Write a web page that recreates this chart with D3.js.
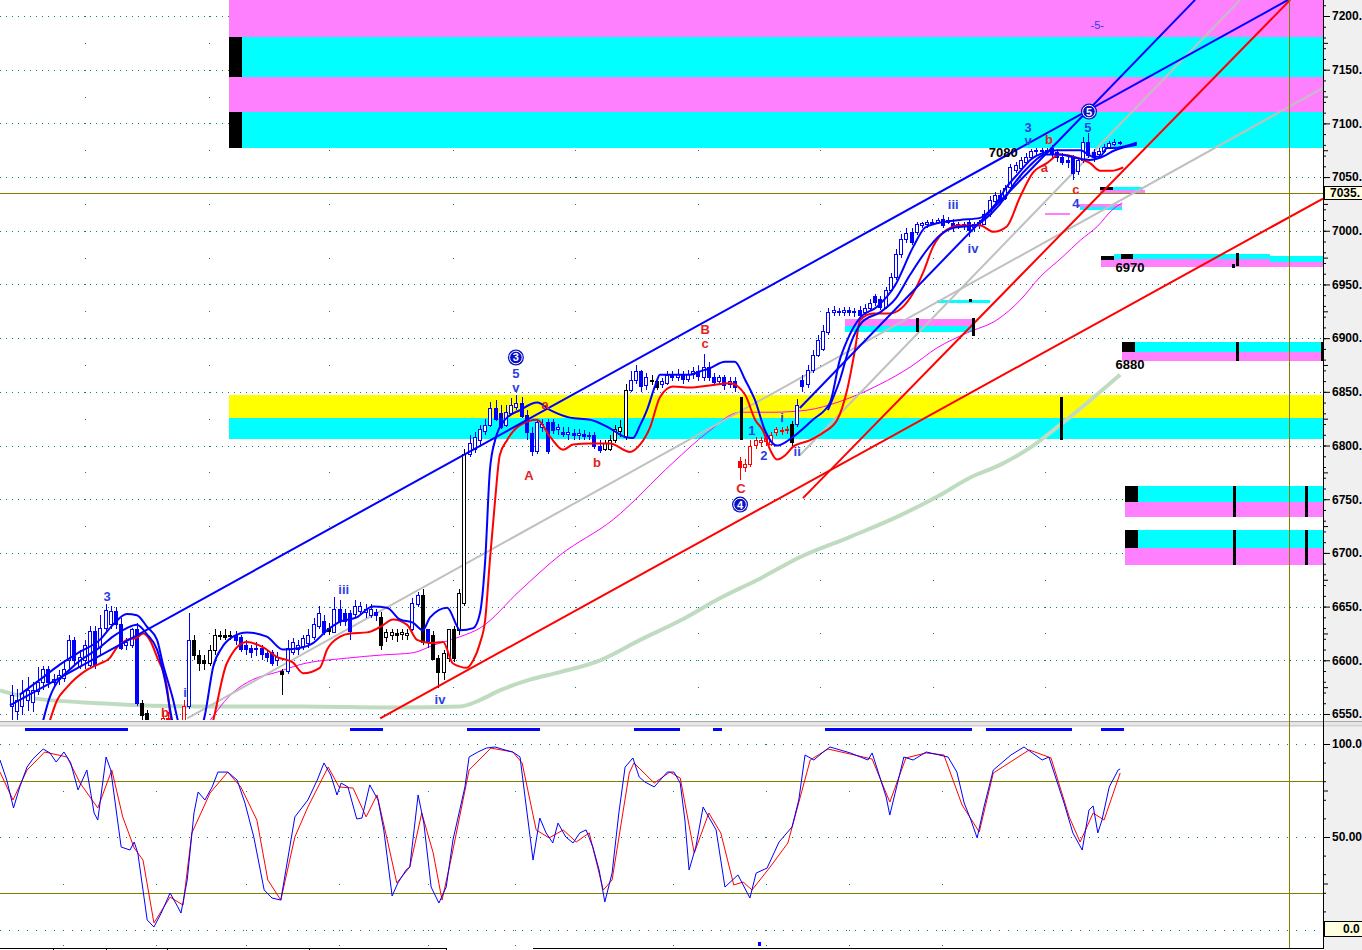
<!DOCTYPE html>
<html><head><meta charset="utf-8">
<script src="https://cdn.jsdelivr.net/npm/d3@7"></script>
<style>
html,body{margin:0;padding:0;background:#fff;}
svg{display:block;}
</style></head><body>
<svg id="chart" width="1362" height="950"></svg>
<script>
// ---------- DATA ----------
const priceTicks=[7200,7150,7100,7050,7000,6950,6900,6850,6800,6750,6700,6650,6600,6550];
const priceMid=[7175,7125,7075,7025,6975,6925,6875,6825,6775,6725,6675,6625,6575];
const stochTicks=[100,50];
const stochLabels=["100.0","50.00"];
const stochMid=[75,25];
const lastPrice=7035;

const opens=[6558,6553,6558,6563,6561,6572,6580,6592,6580,6582,
6584,6600,6619,6595,6600,6595,6627,6612,6630,6634,
6646,6634,6614,6614,6629,6560,6551,6540,6530,6537,
6546,6535,6525,6540,6558,6619,6605,6600,6598,6610,
6623,6624,6623,6624,6622,6614,6611,6610,6611,6607,
6608,6600,6590,6590,6608,6610,6614,6617,6622,6632,
6637,6630,6627,6648,6644,6644,6644,6646,6645,6642,
6645,6640,6621,6623,6625,6624,6623,6629,6653,6661,
6629,6624,6602,6589,6602,6629,6629,6653,6792,6797,
6805,6813,6819,6835,6830,6819,6831,6836,6840,6828,
6812,6795,6817,6822,6822,6815,6813,6811,6812,6810,
6811,6809,6810,6800,6796,6797,6805,6813,6808,6852,
6861,6869,6857,6861,6860,6857,6859,6866,6864,6866,
6862,6866,6869,6864,6873,6864,6860,6864,6857,6860,
6786,6780,6783,6800,6803,6804,6802,6812,6813,6814,
6820,6820,6861,6857,6870,6884,6890,6905,6924,6925,
6924,6926,6924,6926,6924,6928,6939,6936,6929,6945,
6957,6978,6992,6999,6999,7005,7006,7007,7008,7011,
7008,7007,7005,7006,7008,7003,7005,7007,7016,7027,
7033,7031,7040,7056,7059,7064,7068,7074,7074,7075,
7077,7073,7069,7066,7069,7056,7066,7083,7073,7071,
7074,7078,7081,7082];
const highs=[6577,6573,6582,6584,6580,6594,6595,6595,6587,6591,
6600,6624,6622,6610,6619,6632,6632,6642,6652,6651,
6650,6639,6621,6630,6635,6563,6554,6544,6540,6552,
6552,6540,6540,6563,6644,6624,6610,6605,6614,6629,
6627,6629,6627,6627,6624,6619,6614,6617,6614,6610,
6610,6608,6592,6619,6621,6619,6624,6629,6639,6651,
6642,6635,6659,6656,6648,6647,6656,6654,6652,6652,
6648,6645,6629,6629,6629,6629,6629,6658,6664,6666,
6629,6627,6605,6610,6629,6632,6666,6797,6810,6813,
6819,6825,6841,6842,6838,6838,6844,6847,6845,6833,
6817,6825,6825,6825,6825,6820,6817,6817,6815,6815,
6814,6813,6813,6805,6805,6810,6819,6824,6857,6869,
6875,6870,6868,6866,6863,6863,6869,6869,6871,6869,
6870,6873,6874,6885,6878,6868,6866,6866,6864,6864,
6789,6787,6805,6808,6808,6810,6813,6817,6817,6818,
6823,6843,6866,6875,6889,6903,6912,6928,6930,6928,
6929,6929,6928,6930,6932,6936,6941,6939,6948,6961,
6983,6997,7003,7003,7008,7008,7010,7011,7012,7015,
7013,7011,7008,7008,7011,7008,7010,7019,7032,7036,
7038,7043,7062,7064,7069,7072,7076,7077,7077,7077,
7080,7076,7072,7070,7071,7069,7087,7091,7076,7077,
7081,7084,7085,7084];
const lows=[6544,6544,6549,6553,6552,6568,6572,6574,6574,6577,
6580,6592,6595,6592,6592,6592,6592,6605,6627,6629,
6629,6610,6610,6611,6557,6544,6530,6520,6520,6530,
6530,6515,6515,6533,6555,6600,6590,6591,6595,6605,
6619,6619,6619,6614,6608,6605,6602,6604,6600,6598,
6595,6595,6568,6587,6605,6605,6610,6611,6619,6629,
6624,6624,6627,6632,6632,6619,6639,6642,6639,6639,
6637,6610,6617,6619,6617,6619,6619,6627,6650,6614,
6611,6600,6574,6582,6598,6598,6624,6651,6789,6793,
6800,6810,6817,6823,6815,6817,6828,6833,6826,6805,
6790,6792,6813,6792,6811,6810,6808,6805,6805,6805,
6805,6805,6797,6793,6795,6795,6802,6808,6805,6850,
6857,6850,6852,6856,6852,6854,6856,6860,6860,6857,
6859,6862,6860,6860,6860,6855,6856,6852,6854,6850,
6768,6775,6780,6797,6799,6800,6800,6809,6810,6811,
6800,6817,6850,6854,6868,6882,6888,6903,6921,6921,
6921,6921,6920,6918,6921,6926,6930,6926,6927,6943,
6954,6975,6989,6987,6996,7003,7003,7005,7006,7003,
7006,6999,7002,7001,6994,6999,7002,7005,7013,7024,
7024,7029,7038,7054,7056,7062,7066,7071,7071,7071,
7068,7064,7061,7058,7047,7052,7063,7068,7064,7068,
7072,7076,7079,7080];
const closes=[6568,6563,6570,6572,6572,6580,6592,6580,6583,6586,
6592,6619,6600,6603,6614,6627,6595,6630,6647,6646,
6634,6612,6617,6629,6560,6549,6540,6530,6537,6546,
6540,6525,6535,6557,6619,6605,6598,6597,6610,6624,
6624,6622,6624,6619,6611,6610,6607,6611,6605,6603,
6598,6603,6587,6611,6617,6614,6621,6624,6634,6644,
6627,6627,6648,6637,6637,6627,6651,6651,6648,6648,
6642,6614,6626,6626,6623,6626,6625,6653,6661,6617,
6617,6602,6589,6607,6629,6602,6663,6792,6802,6808,
6815,6819,6835,6825,6817,6831,6838,6840,6828,6812,
6795,6822,6820,6795,6815,6817,6811,6813,6810,6812,
6809,6810,6800,6796,6802,6805,6815,6817,6852,6861,
6869,6855,6864,6860,6854,6860,6866,6864,6867,6862,
6867,6869,6864,6873,6864,6859,6864,6857,6860,6854,
6780,6783,6800,6805,6805,6807,6810,6815,6814,6815,
6803,6838,6855,6870,6884,6898,6907,6924,6926,6924,
6926,6924,6925,6921,6928,6933,6933,6929,6945,6957,
6978,6992,6998,6990,7006,7007,7008,7008,7010,7005,
7010,7003,7006,7004,7001,7006,7008,7016,7029,7033,
7027,7040,7059,7061,7066,7069,7074,7075,7075,7074,
7071,7068,7064,7064,7054,7066,7083,7071,7068,7074,
7078,7082,7083,7083];
// colour regime per bar as runs: B blue, K black, R red
const regimeRuns=[["B",25],["K",3],["R",6],["B",1],["K",8],["B",9],["K",1],["B",8],["K",1],["B",9],["K",6],["B",2],["K",1],["B",1],["K",7],["B",26],["K",5],["B",4],["K",2],["B",15],["R",10],["K",1],["B",63]];

// envelope lines [barIndex, price]
const bandUpper=[[1.5,6568],[5.4,6582],[9.2,6596],[13.1,6608],[16.9,6619],[19.4,6633],[22.1,6643],[24.0,6642],[26.0,6631],[27.9,6619],[29.0,6597],[31.0,6563],[31.9,6544],[33.3,6521],[35.2,6521],[37.1,6549],[38.7,6594],[40.4,6612],[42.5,6622],[45.2,6626],[49.0,6622],[52.1,6610],[54.8,6611],[57.9,6616],[60.6,6628],[63.1,6636],[66.3,6640],[69.4,6650],[72.1,6649],[74.6,6638],[77.1,6635],[79.0,6628],[80.4,6640],[83.7,6649],[86.2,6628],[88.7,6630],[90.0,6644],[91.0,6693],[91.9,6777],[92.9,6805],[94.8,6824],[97.7,6833],[101.0,6840],[103.5,6833],[107.3,6826],[111.2,6824],[115.0,6816],[117.9,6808],[119.4,6807],[120.8,6819],[122.1,6833],[123.7,6856],[124.6,6866],[127.1,6866],[130.4,6866],[132.3,6869],[134.2,6872],[137.1,6878],[139.0,6878],[141.0,6861],[142.9,6842],[144.8,6814],[147.1,6800],[148.7,6803],[150.2,6808],[154.0,6824],[157.3,6840],[159.2,6880],[160.6,6898],[163.1,6919],[166.3,6929],[169.8,6949],[173.3,6985],[175.6,7003],[177.9,7007],[182.3,7010],[186.2,7012],[189.0,7024],[191.3,7041],[193.8,7055],[195.8,7066],[198.7,7073],[201.0,7075],[205.4,7075],[207.9,7069],[209.2,7069],[210.6,7077],[211.7,7077],[216.3,7082]];
const bandMidEarly=[[6.0,6544],[7.3,6566],[11.7,6594],[16.9,6612],[19.4,6622],[22.1,6630],[24.0,6633],[26.0,6624],[27.9,6610],[29.4,6582],[30.8,6544],[32.3,6516]];
const bandMidLate=[[156.9,6833],[159.2,6861],[161.2,6894],[163.5,6915],[166.9,6924],[169.8,6936],[172.7,6959],[175.6,6980],[178.5,6996],[181.3,7003],[185.2,7005],[188.1,7015],[191.0,7031],[192.9,7045],[195.8,7061],[198.7,7071],[201.5,7071],[204.4,7068],[207.3,7066],[209.2,7068],[212.1,7075],[216.3,7080]];
const bandLower=[[7.3,6544],[8.7,6563],[10.6,6575],[14.4,6591],[16.9,6597],[18.8,6602],[20.2,6612],[22.1,6619],[24.0,6621],[25.2,6625],[26.5,6619],[27.9,6603],[29.8,6575],[30.4,6551],[31.3,6526],[34.2,6498],[37.1,6516],[38.7,6544],[41.3,6597],[45.2,6617],[48.3,6612],[51.0,6603],[54.0,6598],[56.0,6588],[59.2,6593],[60.6,6610],[63.1,6622],[65.0,6625],[68.3,6626],[70.8,6631],[73.3,6638],[76.0,6633],[77.9,6619],[80.4,6616],[82.9,6617],[84.8,6597],[87.5,6593],[88.7,6600],[90.0,6616],[91.0,6638],[91.9,6693],[92.9,6749],[93.8,6791],[95.2,6805],[97.7,6819],[101.0,6824],[103.5,6808],[106.0,6796],[107.9,6801],[111.2,6802],[115.0,6802],[118.8,6794],[120.8,6801],[122.7,6817],[124.6,6845],[127.1,6855],[130.4,6854],[134.2,6856],[138.1,6858],[141.0,6847],[142.9,6824],[144.4,6814],[145.8,6796],[147.1,6787],[148.7,6791],[150.2,6799],[153.5,6805],[156.0,6812],[158.7,6824],[160.6,6852],[162.1,6889],[163.1,6917],[165.6,6923],[168.8,6923],[173.3,6942],[175.2,6961],[177.1,6985],[179.8,7001],[182.3,7005],[186.2,7005],[188.7,6999],[191.3,7004],[193.8,7031],[196.3,7054],[199.0,7063],[201.5,7071],[204.8,7068],[207.3,7063],[209.2,7056],[211.7,7056],[213.7,7059]];
const maLong=[[-2.3,6572],[3.5,6565],[16.9,6560],[36.2,6557],[55.4,6557],[74.6,6556],[86.2,6557],[90.0,6563],[93.8,6572],[99.6,6582],[105.4,6589],[113.1,6600],[120.8,6619],[128.5,6637],[136.2,6658],[143.8,6676],[151.5,6696],[161.2,6715],[170.8,6735],[178.5,6754],[184.2,6770],[190.0,6782],[195.8,6798],[201.5,6819],[207.3,6842],[213.1,6866]];
const maMid=[[38.1,6544],[42.5,6570],[46.3,6582],[51.0,6589],[55.4,6596],[64.4,6602],[71.3,6605],[77.1,6607],[81.0,6614],[86.2,6622],[90.0,6630],[97.7,6665],[105.4,6698],[115.6,6731],[127.1,6784],[133.7,6812],[140.0,6831],[146.3,6831],[152.9,6833],[159.2,6841],[166.9,6857],[172.7,6873],[177.9,6891],[183.7,6905],[189.4,6917],[193.8,6935],[197.7,6957],[202.1,6976],[205.4,6991],[208.7,7004],[211.7,7020],[213.5,7026]];

// trend lines: two anchors each [barIndex, price]
const trendBlue=[[[-0.4,6558],[245.4,7215]],[[151.5,6835],[227.5,7215]]];
const trendRed=[[[70.8,6546],[252.1,7030]],[[152.1,6751],[245.8,7215]]];
const trendGray=[[[33.7,6546],[252.1,7133]],[[151.5,6791],[236.2,7215]]];

// target / support zones
const zones=[
{i0:41.7,i1:252.1,p0:7214.9,p1:7180.4,k:"m"},
{i0:41.7,i1:252.1,p0:7180.4,p1:7143.2,k:"c"},
{i0:41.7,i1:252.1,p0:7143.2,p1:7110.6,k:"m"},
{i0:41.7,i1:252.1,p0:7110.6,p1:7077.1,k:"c"},
{i0:41.7,i1:44.2,p0:7180.4,p1:7143.2,k:"k"},
{i0:41.7,i1:44.2,p0:7110.6,p1:7077.1,k:"k"},
{i0:41.7,i1:252.1,p0:6847.0,p1:6825.6,k:"y"},
{i0:41.7,i1:252.1,p0:6825.6,p1:6806.1,k:"c"},
{i0:214.0,i1:252.1,p0:6762.3,p1:6747.4,k:"c"},
{i0:214.0,i1:252.1,p0:6747.4,p1:6733.4,k:"m"},
{i0:214.0,i1:216.5,p0:6762.3,p1:6747.4,k:"k"},
{i0:214.0,i1:252.1,p0:6721.3,p1:6704.5,k:"c"},
{i0:214.0,i1:252.1,p0:6704.5,p1:6688.7,k:"m"},
{i0:214.0,i1:216.5,p0:6721.3,p1:6704.5,k:"k"},
{i0:213.5,i1:252.1,p0:6896.4,p1:6887.1,k:"c"},
{i0:213.5,i1:252.1,p0:6887.1,p1:6878.7,k:"m"},
{i0:213.5,i1:216.0,p0:6896.4,p1:6887.1,k:"k"},
{i0:209.4,i1:252.1,p0:6973.7,p1:6966.2,k:"m"},
{i0:211.9,i1:241.9,p0:6978.3,p1:6973.7,k:"c"},
{i0:241.9,i1:252.1,p0:6976.5,p1:6970.9,k:"c"},
{i0:209.4,i1:211.9,p0:6976.5,p1:6972.8,k:"k"},
{i0:213.2,i1:215.6,p0:6978.3,p1:6973.7,k:"k"},
{i0:209.2,i1:217.9,p0:7038.0,p1:7035.2,k:"m"},
{i0:211.7,i1:217.5,p0:7040.7,p1:7038.0,k:"c"},
{i0:209.2,i1:211.7,p0:7040.7,p1:7038.0,k:"k"},
{i0:204.8,i1:213.5,p0:7024.9,p1:7022.1,k:"m"},
{i0:205.4,i1:213.5,p0:7022.1,p1:7019.8,k:"c"},
{i0:198.7,i1:203.5,p0:7016.5,p1:7014.7,k:"m"},
{i0:177.9,i1:188.1,p0:6935.5,p1:6932.7,k:"c"},
{i0:160.2,i1:185.2,p0:6917.8,p1:6911.3,k:"m"},
{i0:160.2,i1:185.2,p0:6911.3,p1:6905.7,k:"c"}
];
const markers=[[140.2,6845.2,6805.1],[201.7,6845.2,6805.1],[235.0,6762.3,6733.4],[248.8,6762.3,6733.4],[235.0,6721.3,6688.7],[248.8,6721.3,6688.7],[235.6,6896.4,6878.7],[251.9,6896.4,6878.7],[235.6,6979.3,6967.2],[234.8,6969.0,6965.3],[174.0,6918.7,6905.7],[184.8,6918.7,6902.0],[184.2,6936.4,6933.6]];

// annotations [barIndex, price, text]
const waveLabels=[[18.3,6660,"3"],[63.8,6666,"iii"],[33.3,6570,"i"],[82.3,6564,"iv"],[96.9,6867,"5"],[96.9,6854,"v"],[142.3,6814,"1"],[144.6,6791,"2"],[148.1,6826,"i"],[151.0,6795,"ii"],[181.0,7025,"iii"],[184.8,6984,"iv"],[195.4,7096,"3"],[195.4,7084,"v"],[206.9,7096,"5"],[204.6,7026,"4"]];
const corrLabels=[[99.4,6772,"A"],[112.5,6784,"b"],[133.3,6908,"B"],[133.3,6895,"c"],[140.2,6760,"C"],[198.5,7059,"a"],[199.4,7085,"b"],[204.6,7039,"c"],[102.5,6838,"a"],[29.4,6552,"b"]];
const levelLabels=[[190.6,7073,"7080"],[215.0,6966,"6970"],[215.0,6876,"6880"]];
const degreeLabels=[[96.9,6882,"3"],[140.0,6745,"4"],[207.1,7111,"5"]];
const topLabels=[[208.7,7192,"-5-"]];

// stochastic %K and %D [barIndex, value]
const stochK=[[-2.3,91.4],[-1.0,80.6],[0.3,65.6],[1.5,76.9],[2.9,87.6],[4.0,91.9],[6.0,97.3],[7.3,95.2],[8.5,90.3],[10.0,95.7],[11.3,89.8],[12.7,75.3],[14.4,86.0],[15.8,62.9],[16.5,59.1],[18.1,93.0],[19.0,86.0],[21.0,44.6],[22.7,43.0],[23.5,47.3],[24.2,41.4],[26.0,5.4],[27.3,1.6],[28.7,9.1],[30.4,19.9],[31.9,12.4],[32.5,9.1],[33.7,26.9],[35.0,62.9],[35.8,74.2],[37.1,69.9],[38.5,76.9],[39.6,84.9],[41.5,84.9],[43.3,80.6],[44.8,68.3],[46.5,50.0],[48.5,21.5],[50.0,17.2],[51.7,16.1],[54.4,60.8],[56.9,69.9],[58.7,80.6],[60.0,89.8],[61.3,83.3],[62.5,72.6],[63.3,79.0],[64.6,76.9],[66.3,59.7],[67.3,60.2],[68.8,78.0],[70.4,69.9],[71.5,53.8],[73.1,18.3],[74.2,25.3],[75.8,32.3],[76.5,33.9],[78.1,72.6],[79.2,57.5],[80.6,23.1],[82.1,14.5],[83.5,23.1],[84.8,48.4],[87.1,76.9],[87.9,93.0],[89.6,95.7],[91.2,97.8],[92.9,98.4],[94.8,96.8],[96.3,95.7],[97.7,93.0],[98.8,68.3],[100.2,37.6],[101.5,60.2],[102.7,52.2],[104.0,46.8],[105.0,57.5],[106.5,50.0],[107.9,46.8],[109.2,52.2],[110.4,53.8],[111.7,44.6],[112.9,32.3],[114.0,15.1],[115.4,30.6],[116.7,62.9],[117.9,87.6],[119.4,92.5],[120.6,82.3],[121.7,79.6],[123.5,76.9],[126.0,84.9],[127.3,84.9],[128.5,79.0],[129.4,59.1],[130.2,32.3],[131.5,44.6],[132.9,66.1],[135.4,53.8],[137.1,23.1],[139.6,29.6],[141.9,17.2],[143.1,30.6],[145.2,33.3],[147.5,47.3],[150.0,55.4],[151.3,69.9],[152.5,94.1],[154.2,91.4],[156.0,95.7],[157.3,98.4],[161.2,95.2],[164.6,91.4],[165.4,95.2],[168.1,71.5],[168.8,61.8],[171.5,93.0],[173.3,91.4],[175.8,95.7],[180.0,93.0],[181.7,84.9],[183.1,68.3],[184.4,59.1],[185.6,49.5],[186.9,66.1],[188.7,86.0],[192.1,94.1],[194.6,98.4],[198.1,91.4],[199.4,93.0],[202.3,68.3],[204.0,52.2],[205.8,43.0],[207.1,64.5],[207.9,66.7],[208.8,52.2],[209.6,59.1],[211.0,76.9],[212.7,86.0],[213.1,86.6]];
const stochD=[[-2.3,84.9],[0.2,69.9],[2.9,86.0],[6.3,95.7],[10.6,93.0],[13.1,79.0],[16.5,65.6],[19.2,86.0],[21.3,60.8],[23.5,44.1],[25.2,37.6],[27.3,3.8],[30.4,17.7],[32.9,13.4],[34.6,52.2],[38.1,73.7],[41.5,84.9],[44.0,76.9],[47.1,59.1],[49.2,26.9],[51.7,16.1],[54.4,50.0],[56.9,66.1],[60.8,87.6],[62.9,76.9],[65.6,76.3],[68.1,60.8],[70.2,72.6],[72.3,46.8],[74.0,25.3],[76.5,33.9],[78.8,62.9],[81.0,41.4],[82.7,16.1],[84.4,37.6],[87.9,86.0],[92.1,97.8],[96.3,95.7],[98.1,89.8],[100.8,53.8],[103.3,49.5],[106.0,53.8],[108.5,47.3],[111.0,52.2],[113.7,21.5],[115.4,26.9],[118.7,84.4],[119.6,89.8],[123.5,79.0],[126.5,84.9],[128.5,81.7],[131.2,41.4],[134.0,62.9],[136.3,52.2],[138.8,24.2],[140.6,25.8],[142.3,21.5],[145.8,33.9],[149.2,46.8],[153.5,91.4],[156.9,97.3],[161.2,94.6],[165.4,91.9],[168.8,68.8],[171.9,92.5],[175.8,95.2],[179.2,94.1],[182.7,67.2],[186.0,52.7],[188.7,84.4],[195.6,96.8],[199.8,92.5],[203.3,60.8],[205.4,47.3],[207.9,62.9],[210.0,59.1],[213.1,84.4]];
const signalSegs=[[2.5,22.3],[65.0,71.3],[87.5,101.5],[119.6,128.5],[134.8,136.5],[156.3,184.6],[187.3,203.8],[209.4,213.8]];
const bottomMarks=[143.7];

const gridColsMain=[14.0,37.9,61.0,84.8,108.3,131.9,155.4,177.1,198.7];
const gridColsLow=[9.8,27.7,45.0,62.9,80.0,96.7,127.1,145.0,161.0,178.8];
const lastBarMarker=245.6;

// ---------- DRAW ----------
const FONT="'Liberation Sans', Arial, sans-serif";
const PR=1323;
const x=d3.scaleLinear().domain([-2.3,252.1]).range([0,PR]);
const y=d3.scaleLinear().domain([6544.4,7214.9]).range([720,0]);
const ys=d3.scaleLinear().domain([0,100]).range([930,744]);
const colors={m:"#ff80ff",c:"#00ffff",y:"#ffff00",k:"#000000"};
const regCol={B:"#0000ff",K:"#000000",R:"#ff0000"};
const regimes=[];regimeRuns.forEach(([r,n])=>{for(let j=0;j<n;j++)regimes.push(r);});
const bars=opens.map((o,i)=>({i,o,h:highs[i],l:lows[i],c:closes[i],r:regimes[i]||"B"}));

const svg=d3.select("#chart");
svg.append("rect").attr("width",1362).attr("height",950).attr("fill","#fff");
svg.append("rect").attr("x",PR+1).attr("y",0).attr("width",1362-PR).attr("height",950).attr("fill","#f0f0f0");
const defs=svg.append("defs");
defs.append("clipPath").attr("id","cm").append("rect").attr("x",0).attr("y",0).attr("width",PR).attr("height",720);
defs.append("clipPath").attr("id","cl").append("rect").attr("x",0).attr("y",728).attr("width",PR).attr("height",220);

const gM=svg.append("g").attr("clip-path","url(#cm)");
// grid
gM.selectAll("line.hg").data(priceTicks).join("line")
 .attr("x1",0).attr("x2",PR).attr("y1",d=>Math.round(y(d))+0.5).attr("y2",d=>Math.round(y(d))+0.5)
 .attr("stroke","#008080").attr("stroke-dasharray","1,5");
const gridLevels=priceTicks.concat(priceMid);
gridColsMain.forEach(c=>{
  gM.selectAll(null).data(gridLevels).join("rect")
   .attr("x",Math.round(x(c))).attr("y",d=>Math.round(y(d))).attr("width",1).attr("height",1).attr("fill","#008080");
});
// zones
gM.selectAll("rect.zone").data(zones).join("rect")
 .attr("x",d=>Math.round(x(d.i0))).attr("width",d=>Math.round(x(d.i1))-Math.round(x(d.i0)))
 .attr("y",d=>Math.round(y(d.p0))).attr("height",d=>Math.max(1,Math.round(y(d.p1))-Math.round(y(d.p0))))
 .attr("fill",d=>colors[d.k]);
// olive reference line at last price
gM.append("line").attr("x1",0).attr("x2",PR).attr("y1",Math.round(y(lastPrice))+0.5).attr("y2",Math.round(y(lastPrice))+0.5).attr("stroke","#808000");
// moving averages
const ln=d3.line().x(d=>x(d[0])).y(d=>y(d[1])).curve(d3.curveMonotoneX);
gM.append("path").attr("d",ln(maLong)).attr("fill","none").attr("stroke","#c0dcc0").attr("stroke-width",4);
gM.append("path").attr("d",ln(maMid)).attr("fill","none").attr("stroke","#ff00ff").attr("stroke-width",1);
const ll=d3.line().x(d=>x(d[0])).y(d=>y(d[1]));
trendGray.forEach(t=>gM.append("path").attr("d",ll(t)).attr("fill","none").attr("stroke","#c0c0c0").attr("stroke-width",2));
// candles
const gc=gM.append("g").attr("shape-rendering","crispEdges");
gc.selectAll("line").data(bars).join("line")
 .attr("x1",d=>Math.round(x(d.i))+0.5).attr("x2",d=>Math.round(x(d.i))+0.5)
 .attr("y1",d=>y(d.h)).attr("y2",d=>y(d.l)).attr("stroke",d=>regCol[d.r]);
gc.selectAll("rect").data(bars).join("rect")
 .attr("x",d=>Math.round(x(d.i))-1.5).attr("width",3)
 .attr("y",d=>Math.round(y(Math.max(d.o,d.c)))+0.5)
 .attr("height",d=>Math.max(1,Math.round(Math.abs(y(d.o)-y(d.c)))))
 .attr("fill",d=>d.c>d.o?"#ffffff":regCol[d.r]).attr("stroke",d=>regCol[d.r]);
// envelope curves
gM.append("path").attr("d",ln(bandLower)).attr("fill","none").attr("stroke","#ff0000").attr("stroke-width",2);
[bandMidEarly,bandMidLate].forEach(s=>gM.append("path").attr("d",ln(s)).attr("fill","none").attr("stroke","#0000ff").attr("stroke-width",2));
gM.append("path").attr("d",ln(bandUpper)).attr("fill","none").attr("stroke","#0000ff").attr("stroke-width",2);
// trendlines
trendBlue.forEach(t=>gM.append("path").attr("d",ll(t)).attr("fill","none").attr("stroke","#0000ff").attr("stroke-width",2));
trendRed.forEach(t=>gM.append("path").attr("d",ll(t)).attr("fill","none").attr("stroke","#ff0000").attr("stroke-width",2));
// black markers
gM.selectAll("rect.mk").data(markers).join("rect")
 .attr("x",d=>Math.round(x(d[0]))-1).attr("width",3)
 .attr("y",d=>Math.round(y(d[1]))).attr("height",d=>Math.max(2,Math.round(y(d[2])-y(d[1]))))
 .attr("fill","#000");
// labels
function labels(data,fill,size,weight){
  gM.selectAll(null).data(data).join("text")
   .attr("x",d=>x(d[0])).attr("y",d=>y(d[1])).attr("dy","0.36em")
   .attr("text-anchor","middle").attr("font-family",FONT).attr("font-size",size)
   .attr("font-weight",weight).attr("fill",fill).text(d=>d[2]);
}
labels(waveLabels,"#2d3fe0",13,"bold");
labels(corrLabels,"#e41e1e",13,"bold");
labels(levelLabels,"#000",13,"bold");
labels(topLabels,"#2d3fe0",11,"normal");
const gd=gM.selectAll("g.deg").data(degreeLabels).join("g").attr("transform",d=>`translate(${x(d[0])},${y(d[1])})`);
gd.append("circle").attr("r",8).attr("fill","#0a10c8");
gd.append("circle").attr("r",6.3).attr("fill","none").attr("stroke","#fff").attr("stroke-width",1);
gd.append("text").attr("dy","0.36em").attr("text-anchor","middle").attr("font-family",FONT).attr("font-size",11).attr("font-weight","bold").attr("fill","#fff").text(d=>d[2]);

// separator between panels
svg.append("rect").attr("x",0).attr("y",721).attr("width",1362).attr("height",6).attr("fill","#e6e6e6");
svg.append("line").attr("x1",0).attr("x2",1362).attr("y1",721.5).attr("y2",721.5).attr("stroke","#a8a8a8");
svg.append("line").attr("x1",0).attr("x2",1362).attr("y1",725.5).attr("y2",725.5).attr("stroke","#cfcfcf");

// ---------- LOWER PANEL ----------
const gL=svg.append("g").attr("clip-path","url(#cl)");
gL.append("line").attr("x1",0).attr("x2",PR).attr("y1",727.5).attr("y2",727.5).attr("stroke","#808000");
gL.selectAll("line.hd").data([100,50,0]).join("line")
 .attr("x1",0).attr("x2",PR).attr("y1",d=>Math.round(ys(d))+0.5).attr("y2",d=>Math.round(ys(d))+0.5)
 .attr("stroke","#008080").attr("stroke-dasharray","1,8");
gL.selectAll("line.ol").data([80,20]).join("line")
 .attr("x1",0).attr("x2",PR).attr("y1",d=>Math.round(ys(d))+0.5).attr("y2",d=>Math.round(ys(d))+0.5)
 .attr("stroke","#808000");
gridColsLow.forEach(c=>{
  gL.selectAll(null).data([100,75,50,25,0,-8]).join("rect")
   .attr("x",Math.round(x(c))).attr("y",d=>Math.round(ys(d))).attr("width",1).attr("height",1).attr("fill","#008080");
});
gL.selectAll("rect.sig").data(signalSegs).join("rect")
 .attr("x",d=>Math.round(x(d[0]))).attr("width",d=>Math.round(x(d[1])-x(d[0])))
 .attr("y",728).attr("height",3).attr("fill","#0000ff");
const sl=d3.line().x(d=>x(d[0])).y(d=>ys(d[1]));
gL.append("path").attr("d",sl(stochD)).attr("fill","none").attr("stroke","#ff0000").attr("stroke-width",1);
gL.append("path").attr("d",sl(stochK)).attr("fill","none").attr("stroke","#0000ff").attr("stroke-width",1);
gL.selectAll("rect.bm").data(bottomMarks).join("rect")
 .attr("x",d=>Math.round(x(d))-1).attr("y",942).attr("width",3).attr("height",4).attr("fill","#0000ff");

// last-bar vertical marker
svg.append("line").attr("x1",Math.round(x(lastBarMarker))+0.5).attr("x2",Math.round(x(lastBarMarker))+0.5)
 .attr("y1",0).attr("y2",948).attr("stroke","#808000");

// bottom strip
const bs=svg.append("g").attr("stroke","#000").attr("shape-rendering","crispEdges");
bs.append("line").attr("x1",0).attr("x2",446).attr("y1",948.5).attr("y2",948.5);
bs.append("line").attr("x1",533).attr("x2",PR).attr("y1",948.5).attr("y2",948.5);
[53,106,167,309,446].forEach(v=>bs.append("line").attr("x1",v+0.5).attr("x2",v+0.5).attr("y1",948).attr("y2",950));

// ---------- AXES ----------
svg.append("line").attr("x1",PR+0.5).attr("x2",PR+0.5).attr("y1",0).attr("y2",949).attr("stroke","#000");
function styleAxis(g){
  g.select(".domain").remove();
  g.selectAll("line").attr("stroke","#000");
  g.selectAll("text").attr("font-family",FONT).attr("font-size",12).attr("font-weight","bold").attr("fill","#000");
}
const aMain=svg.append("g").attr("transform",`translate(${PR+1},0)`)
 .call(d3.axisRight(y).tickValues(priceTicks).tickSize(6).tickSizeOuter(0).tickPadding(2).tickFormat(d=>d+"."));
styleAxis(aMain);
const aMainMid=svg.append("g").attr("transform",`translate(${PR+1},0)`)
 .call(d3.axisRight(y).tickValues(priceMid).tickSize(4).tickSizeOuter(0).tickFormat(""));
styleAxis(aMainMid);
const aMainDot=svg.append("g").attr("transform",`translate(${PR+1},0)`)
 .call(d3.axisRight(y).ticks(66).tickSize(2).tickSizeOuter(0).tickFormat(""));
styleAxis(aMainDot);
const aLow=svg.append("g").attr("transform",`translate(${PR+1},0)`)
 .call(d3.axisRight(ys).tickValues(stochTicks).tickSize(6).tickSizeOuter(0).tickPadding(2).tickFormat((d,i)=>stochLabels[i]));
styleAxis(aLow);
const aLowMid=svg.append("g").attr("transform",`translate(${PR+1},0)`)
 .call(d3.axisRight(ys).tickValues(stochMid).tickSize(4).tickSizeOuter(0).tickFormat(""));
styleAxis(aLowMid);
const aLowDot=svg.append("g").attr("transform",`translate(${PR+1},0)`)
 .call(d3.axisRight(ys).ticks(10).tickSize(2).tickSizeOuter(0).tickFormat(""));
styleAxis(aLowDot);

// value boxes
const yb=Math.round(y(lastPrice));
svg.append("rect").attr("x",PR+1.5).attr("y",yb-6.5).attr("width",40).attr("height",13).attr("fill","#ffffe0").attr("stroke","#000");
svg.append("text").attr("x",PR+7).attr("y",yb).attr("dy","0.36em").attr("font-family",FONT).attr("font-size",12).attr("font-weight","bold").text(lastPrice+".");
const y0=Math.round(ys(0));
svg.append("rect").attr("x",PR+1.5).attr("y",y0-8.5).attr("width",40).attr("height",15).attr("fill","#ffffe0").attr("stroke","#000");
svg.append("text").attr("x",1343).attr("y",y0-1).attr("dy","0.36em").attr("font-family",FONT).attr("font-size",12).attr("font-weight","bold").text("0.0");
</script></body></html>
